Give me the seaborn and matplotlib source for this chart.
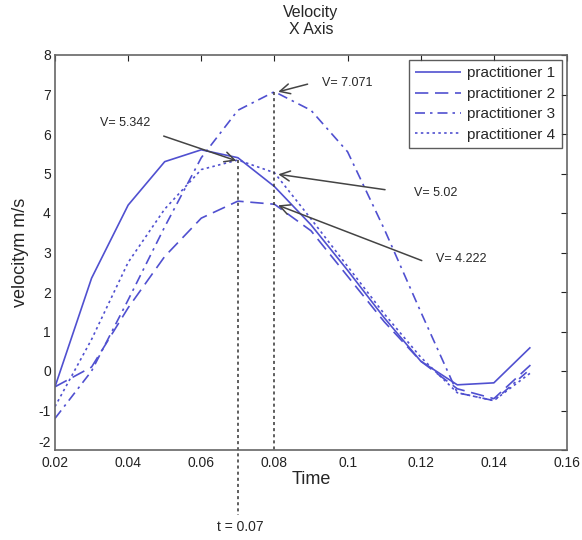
import numpy as np
import pandas as pd
import seaborn as sns
import matplotlib
matplotlib.use("Agg")
import matplotlib.pyplot as plt

time = [0.02, 0.03, 0.04, 0.05, 0.06, 0.07, 0.08, 0.09, 0.10, 0.11, 0.12, 0.13, 0.14, 0.15]
p1 = [-0.4, 2.35, 4.2, 5.3, 5.6, 5.4, 4.67, 3.7, 2.55, 1.35, 0.25, -0.35, -0.3, 0.6]
p2 = [-0.4, 0.1, 1.6, 2.9, 3.87, 4.3, 4.222, 3.55, 2.4, 1.25, 0.25, -0.45, -0.7, 0.15]
p3 = [-1.2, 0.0, 1.8, 3.65, 5.4, 6.6, 7.071, 6.6, 5.55, 3.6, 1.5, -0.55, -0.75, 0.05]
p4 = [-0.9, 0.8, 2.75, 4.1, 5.1, 5.342, 5.02, 3.85, 2.65, 1.45, 0.35, -0.55, -0.75, -0.05]
names = ["practitioner 1", "practitioner 2", "practitioner 3", "practitioner 4"]
xticks = [0.02, 0.04, 0.06, 0.08, 0.1, 0.12, 0.14, 0.16]
xticklabels = ["0.02", "0.04", "0.06", "0.08", "0.1", "0.12", "0.14", "0.16"]
yticks = list(range(-2, 9))

df = pd.DataFrame({"Time": time * 4,
                   "v": p1 + p2 + p3 + p4,
                   "who": sum([[n] * len(time) for n in names], [])})

sns.set_style("white")
plt.rcParams['font.family'] = ['Liberation Sans', 'DejaVu Sans']
plt.rcParams['axes.unicode_minus'] = False

fig = plt.figure(figsize=(5.82, 5.40), dpi=100)
ax = fig.add_axes([55/582, 90/540, 512/582, 395/540])

blue = "#5050d0"
dashes = {names[0]: (1, 0), names[1]: (8, 4), names[2]: (6, 3, 1.5, 3), names[3]: (1.5, 2)}
sns.lineplot(data=df, x="Time", y="v", hue="who", style="who",
             palette=[blue] * 4, dashes=dashes, linewidth=1.2, ax=ax)

ax.set_xlim(0.02, 0.16)
ax.set_ylim(-2, 8)
ax.set_xticks(xticks)
ax.set_xticklabels(xticklabels)
ax.set_yticks(yticks)
ax.tick_params(direction="in", top=True, right=True, length=4, width=0.8,
               labelsize=10, colors="#222222")
ax.tick_params(axis="x", pad=4)
ax.tick_params(axis="y", pad=3)
for s in ax.spines.values():
    s.set_color("#666666")
    s.set_linewidth(1.2)
ax.get_yticklabels()[0].set_va("bottom")

ax.set_xlabel("Time", fontsize=13, labelpad=1)
ax.set_ylabel("velocitym m/s", fontsize=13, labelpad=7)
ax.set_title("Velocity\nX Axis", fontsize=11.5, pad=15, linespacing=1.15)

# vertical dashed lines
ax.plot([0.07, 0.07], [5.342, -3.65], linestyle=(0, (2, 2)), color="#333333",
        linewidth=1.1, clip_on=False)
ax.plot([0.08, 0.08], [7.071, -2], linestyle=(0, (2, 2)), color="#333333",
        linewidth=1.1)
ax.text(0.0708, -3.95, "t = 0.07", ha="center", va="center", fontsize=10)

arrow = dict(arrowstyle="->", color="#444444", lw=1.1, mutation_scale=18)
ax.annotate("", xy=(0.0703, 5.30), xytext=(0.049, 5.97), arrowprops=arrow)
ax.text(0.0322, 6.28, "V= 5.342", fontsize=9, va="center")
ax.annotate("", xy=(0.0803, 7.05), xytext=(0.0898, 7.28), arrowprops=arrow)
ax.text(0.0929, 7.29, "V= 7.071", fontsize=9, va="center")
ax.annotate("", xy=(0.0803, 4.99), xytext=(0.111, 4.58), arrowprops=arrow)
ax.text(0.1183, 4.5, "V= 5.02", fontsize=9, va="center")
ax.annotate("", xy=(0.0803, 4.22), xytext=(0.121, 2.77), arrowprops=arrow)
ax.text(0.1241, 2.83, "V= 4.222", fontsize=9, va="center")

leg = ax.legend(loc="upper right", fontsize=11, frameon=True, fancybox=False,
                edgecolor="#333333", handlelength=3.0, borderpad=0.4,
                labelspacing=0.42, handletextpad=0.4, borderaxespad=0.35)
leg.get_frame().set_linewidth(1.0)
leg.set_title(None)

fig.savefig("out.png", dpi=100)
